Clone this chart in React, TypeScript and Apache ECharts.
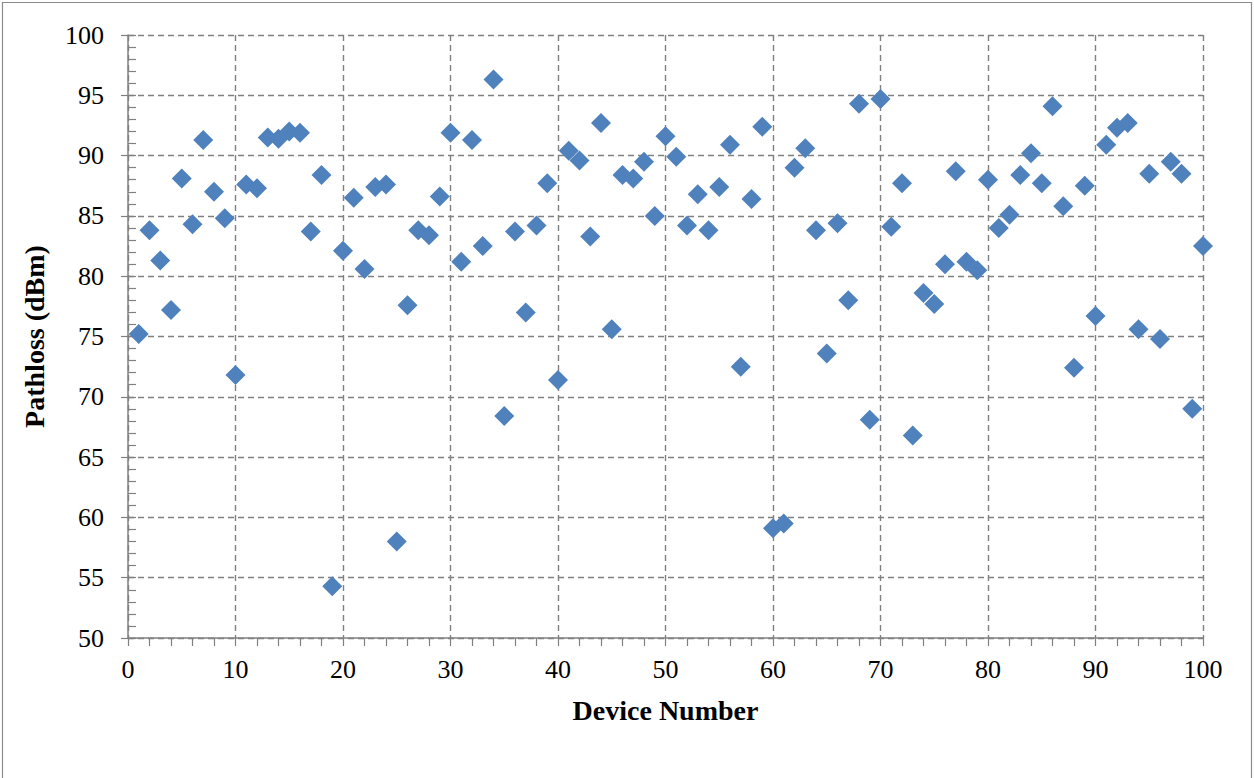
import React, { useEffect, useRef } from "react";
import * as echarts from "echarts";

const deviceNumbers: number[] = Array.from({ length: 100 }, (_, i) => i + 1);
const pathloss: number[] = [
  75.2, 83.8, 81.3, 77.2, 88.1, 84.3, 91.3, 87.0, 84.8, 71.8,
  87.6, 87.3, 91.5, 91.4, 92.0, 91.9, 83.7, 88.4, 54.3, 82.1,
  86.5, 80.6, 87.4, 87.6, 58.0, 77.6, 83.8, 83.4, 86.6, 91.9,
  81.2, 91.3, 82.5, 96.3, 68.4, 83.7, 77.0, 84.2, 87.7, 71.4,
  90.4, 89.6, 83.3, 92.7, 75.6, 88.4, 88.1, 89.5, 85.0, 91.6,
  89.9, 84.2, 86.8, 83.8, 87.4, 90.9, 72.5, 86.4, 92.4, 59.1,
  59.5, 89.0, 90.6, 83.8, 73.6, 84.4, 78.0, 94.3, 68.1, 94.7,
  84.1, 87.7, 66.8, 78.6, 77.7, 81.0, 88.7, 81.2, 80.5, 88.0,
  84.0, 85.1, 88.4, 90.2, 87.7, 94.1, 85.8, 72.4, 87.5, 76.7,
  90.9, 92.3, 92.7, 75.6, 88.5, 74.8, 89.5, 88.5, 69.0, 82.5,
];
const xTitle = "Device Number";
const yTitle = "Pathloss (dBm)";

const FONT = "'Liberation Serif', 'Times New Roman', serif";
const GRAY = "#808080";

export default function App() {
  const ref = useRef<HTMLDivElement>(null);
  useEffect(() => {
    document.body.style.margin = "0";
    if (!ref.current) return;
    const chart = echarts.init(ref.current, undefined, { renderer: "svg" });
    const data = deviceNumbers.map((d, i) => [d, pathloss[i]]);
    chart.setOption({
      animation: false,
      backgroundColor: "#ffffff",
      grid: { left: 128, top: 35, right: 51, bottom: 140, containLabel: false },
      graphic: [
        {
          type: "rect",
          shape: { x: 2.5, y: 2.5, width: 1249, height: 800 },
          style: { fill: "none", stroke: "#8c8c8c", lineWidth: 1.2 },
          silent: true,
        },
      ],
      xAxis: {
        type: "value",
        min: 0,
        max: 100,
        interval: 10,
        name: xTitle,
        nameLocation: "middle",
        nameGap: 58,
        nameTextStyle: { fontFamily: FONT, fontSize: 28, fontWeight: "bold", color: "#000" },
        axisLine: { show: true, onZero: false, lineStyle: { color: GRAY, width: 1.5 } },
        axisTick: { show: true, inside: false, length: 8, lineStyle: { color: GRAY, width: 1.2 } },
        minorTick: { show: true, splitNumber: 5, length: 8, lineStyle: { color: GRAY, width: 1.2 } },
        axisLabel: { fontFamily: FONT, fontSize: 26, color: "#000", margin: 18 },
        splitLine: { show: true, lineStyle: { color: GRAY, type: [6, 4], width: 1.4 } },
      },
      yAxis: [
        {
          type: "value",
          min: 50,
          max: 100,
          interval: 5,
          name: yTitle,
          nameLocation: "middle",
          nameGap: 80,
          nameRotate: 90,
          nameTextStyle: { fontFamily: FONT, fontSize: 28, fontWeight: "bold", color: "#000" },
          axisLine: { show: true, onZero: false, lineStyle: { color: GRAY, width: 1.5 } },
          axisTick: { show: true, inside: false, length: 7, lineStyle: { color: GRAY, width: 1.2 } },
          axisLabel: { fontFamily: FONT, fontSize: 26, color: "#000", margin: 24 },
          splitLine: { show: true, lineStyle: { color: GRAY, type: [6, 4], width: 1.4 } },
        },
        {
          type: "value",
          min: 50,
          max: 100,
          interval: 5,
          position: "left",
          axisLine: { show: false, onZero: false },
          axisTick: { show: true, inside: true, length: 8, lineStyle: { color: GRAY, width: 1.2 } },
          minorTick: { show: true, splitNumber: 5, length: 8, lineStyle: { color: GRAY, width: 1.2 } },
          axisLabel: { show: false },
          splitLine: { show: false },
        },
      ],
      series: [
        {
          type: "scatter",
          xAxisIndex: 0,
          yAxisIndex: 0,
          data,
          symbol: "diamond",
          symbolSize: [20, 20],
          itemStyle: { color: "#4F81BD", opacity: 1 },
        },
      ],
    });
    return () => chart.dispose();
  }, []);
  return <div ref={ref} style={{ width: 1254, height: 778 }} />;
}
